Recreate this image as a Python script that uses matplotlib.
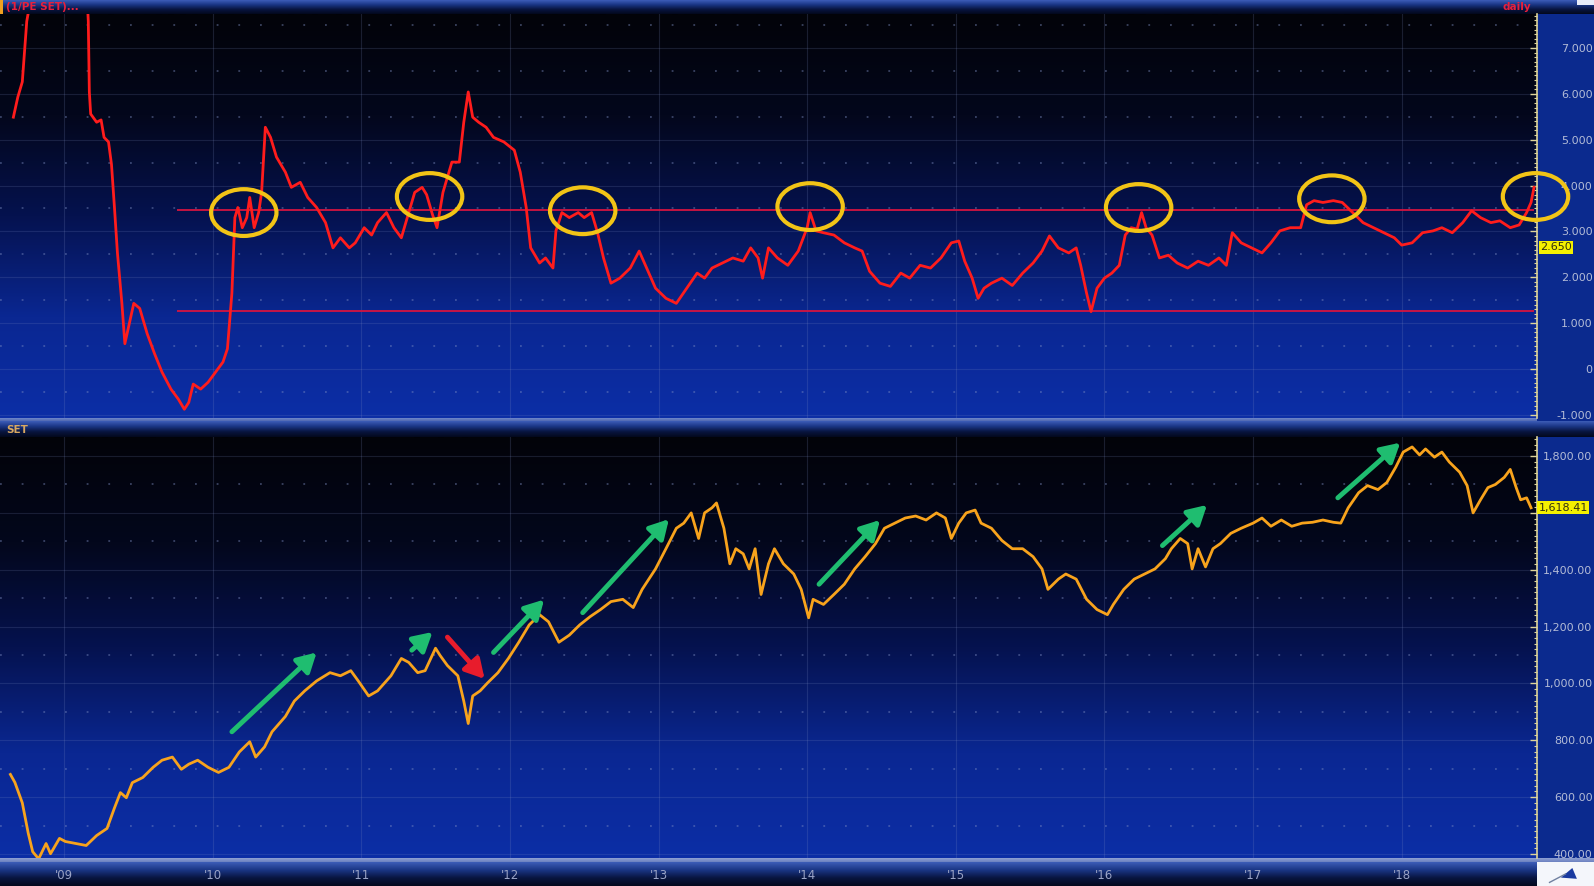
import numpy as np
import matplotlib
matplotlib.use('Agg')
import matplotlib.pyplot as plt
import matplotlib.transforms as mtransforms
from matplotlib.colors import LinearSegmentedColormap
from matplotlib.patches import Ellipse, Rectangle
from matplotlib.ticker import MultipleLocator

# DATA

# top panel: 1/PE of SET (earnings yield), daily
pe_years = [2008.66, 2008.69, 2008.72, 2008.75, 2008.80, 2009.00, 2009.15, 2009.164, 2009.171, 2009.18,
            2009.22, 2009.25, 2009.27, 2009.30, 2009.32, 2009.34, 2009.36, 2009.39, 2009.41, 2009.44,
            2009.47, 2009.51, 2009.56, 2009.61, 2009.66, 2009.72, 2009.77, 2009.81, 2009.84, 2009.87,
            2009.92, 2009.97, 2010.02, 2010.07, 2010.10, 2010.13, 2010.15, 2010.17, 2010.20, 2010.23,
            2010.25, 2010.28, 2010.31, 2010.33, 2010.355, 2010.39, 2010.43, 2010.49, 2010.53, 2010.59,
            2010.64, 2010.70, 2010.76, 2010.81, 2010.86, 2010.92, 2010.96, 2011.02, 2011.07, 2011.11,
            2011.17, 2011.22, 2011.27, 2011.31, 2011.36, 2011.41, 2011.44, 2011.48, 2011.51, 2011.55,
            2011.58, 2011.61, 2011.66, 2011.69, 2011.72, 2011.75, 2011.79, 2011.84, 2011.89, 2011.96,
            2012.03, 2012.07, 2012.11, 2012.14, 2012.20, 2012.24, 2012.29, 2012.31, 2012.35, 2012.40,
            2012.46, 2012.50, 2012.55, 2012.59, 2012.63, 2012.68, 2012.74, 2012.81, 2012.87, 2012.92,
            2012.98, 2013.05, 2013.12, 2013.19, 2013.26, 2013.31, 2013.36, 2013.43, 2013.50, 2013.57,
            2013.62, 2013.67, 2013.70, 2013.74, 2013.80, 2013.87, 2013.94, 2014.00, 2014.02, 2014.06,
            2014.11, 2014.18, 2014.25, 2014.32, 2014.37, 2014.42, 2014.49, 2014.56, 2014.63, 2014.69,
            2014.76, 2014.83, 2014.90, 2014.97, 2015.02, 2015.06, 2015.11, 2015.15, 2015.19, 2015.24,
            2015.31, 2015.38, 2015.45, 2015.52, 2015.58, 2015.63, 2015.69, 2015.76, 2015.81, 2015.84,
            2015.88, 2015.91, 2015.95, 2016.00, 2016.05, 2016.10, 2016.14, 2016.18, 2016.22, 2016.25,
            2016.28, 2016.32, 2016.37, 2016.43, 2016.49, 2016.56, 2016.63, 2016.70, 2016.77, 2016.82,
            2016.86, 2016.92, 2016.99, 2017.06, 2017.12, 2017.18, 2017.25, 2017.32, 2017.36, 2017.41,
            2017.47, 2017.54, 2017.60, 2017.67, 2017.74, 2017.81, 2017.88, 2017.95, 2018.00, 2018.07,
            2018.14, 2018.21, 2018.27, 2018.34, 2018.41, 2018.47, 2018.53, 2018.60, 2018.66, 2018.73,
            2018.79, 2018.84, 2018.87, 2018.89]
pe_vals = [5.49, 5.93, 6.26, 7.58, 8.5, 8.5, 8.5, 7.58, 6.04, 5.56,
           5.38, 5.43, 5.05, 4.95, 4.46, 3.52, 2.53, 1.43, 0.55, 0.99,
           1.43, 1.32, 0.77, 0.33, -0.07, -0.44, -0.66, -0.88, -0.73, -0.33,
           -0.44, -0.29, -0.07, 0.15, 0.44, 1.65, 3.30, 3.52, 3.08, 3.30,
           3.74, 3.08, 3.41, 3.85, 5.27, 5.05, 4.62, 4.29, 3.96, 4.07,
           3.74, 3.52, 3.19, 2.64, 2.86, 2.64, 2.75, 3.08, 2.92, 3.19,
           3.41, 3.08, 2.86, 3.30, 3.85, 3.96, 3.80, 3.36, 3.08, 3.85,
           4.18, 4.51, 4.51, 5.38, 6.04, 5.49, 5.38, 5.27, 5.05, 4.95,
           4.77, 4.29, 3.52, 2.64, 2.31, 2.42, 2.20, 3.01, 3.41, 3.30,
           3.41, 3.30, 3.41, 2.97, 2.42, 1.87, 1.98, 2.20, 2.57, 2.20,
           1.76, 1.54, 1.43, 1.76, 2.09, 1.98, 2.20, 2.31, 2.42, 2.35,
           2.64, 2.42, 1.98, 2.64, 2.42, 2.26, 2.57, 3.08, 3.41, 3.01,
           2.97, 2.92, 2.75, 2.64, 2.57, 2.13, 1.87, 1.80, 2.09, 1.98,
           2.26, 2.20, 2.42, 2.75, 2.79, 2.35, 1.98, 1.54, 1.76, 1.87,
           1.98, 1.82, 2.09, 2.31, 2.57, 2.90, 2.64, 2.53, 2.64, 2.26,
           1.65, 1.25, 1.76, 1.98, 2.09, 2.26, 2.92, 3.08, 3.05, 3.41,
           3.08, 2.92, 2.42, 2.48, 2.31, 2.20, 2.35, 2.26, 2.42, 2.26,
           2.97, 2.75, 2.64, 2.53, 2.75, 3.01, 3.08, 3.08, 3.58, 3.67,
           3.63, 3.67, 3.63, 3.41, 3.19, 3.08, 2.97, 2.86, 2.70, 2.75,
           2.97, 3.01, 3.08, 2.97, 3.19, 3.45, 3.30, 3.19, 3.23, 3.08,
           3.14, 3.41, 3.63, 3.96]
pe_levels = [3.47, 1.26]
pe_level_start, pe_level_end = 2009.76, 2018.89
pe_last_label = 2.650

# circled tops (year, value)
circle_x = [2010.21, 2011.46, 2012.49, 2014.02, 2016.23, 2017.53, 2018.90]
circle_y = [3.41, 3.76, 3.45, 3.54, 3.52, 3.71, 3.76]

# bottom panel: SET index
set_years = [2008.64, 2008.67, 2008.72, 2008.76, 2008.79, 2008.83, 2008.88, 2008.91, 2008.97, 2009.01,
             2009.08, 2009.15, 2009.22, 2009.29, 2009.34, 2009.38, 2009.42, 2009.46, 2009.53, 2009.60,
             2009.66, 2009.73, 2009.79, 2009.84, 2009.90, 2009.97, 2010.04, 2010.11, 2010.18, 2010.25,
             2010.29, 2010.35, 2010.40, 2010.49, 2010.55, 2010.62, 2010.70, 2010.79, 2010.86, 2010.93,
             2010.98, 2011.05, 2011.11, 2011.20, 2011.27, 2011.32, 2011.38, 2011.43, 2011.50, 2011.53,
             2011.58, 2011.65, 2011.69, 2011.72, 2011.75, 2011.80, 2011.85, 2011.92, 2011.99, 2012.06,
             2012.13, 2012.20, 2012.26, 2012.33, 2012.40, 2012.47, 2012.54, 2012.61, 2012.68, 2012.76,
             2012.83, 2012.89, 2012.98, 2013.05, 2013.12, 2013.17, 2013.22, 2013.27, 2013.31, 2013.36,
             2013.39, 2013.44, 2013.48, 2013.52, 2013.57, 2013.61, 2013.65, 2013.69, 2013.74, 2013.78,
             2013.84, 2013.91, 2013.96, 2014.01, 2014.04, 2014.11, 2014.18, 2014.25, 2014.32, 2014.39,
             2014.46, 2014.52, 2014.59, 2014.66, 2014.73, 2014.80, 2014.87, 2014.93, 2014.97, 2015.02,
             2015.07, 2015.13, 2015.17, 2015.24, 2015.31, 2015.38, 2015.45, 2015.52, 2015.58, 2015.62,
             2015.69, 2015.74, 2015.81, 2015.88, 2015.95, 2016.02, 2016.06, 2016.13, 2016.20, 2016.27,
             2016.34, 2016.41, 2016.45, 2016.51, 2016.56, 2016.59, 2016.63, 2016.68, 2016.73, 2016.78,
             2016.85, 2016.92, 2017.00, 2017.06, 2017.12, 2017.19, 2017.26, 2017.33, 2017.40, 2017.47,
             2017.54, 2017.59, 2017.64, 2017.71, 2017.77, 2017.84, 2017.90, 2017.96, 2018.01, 2018.07,
             2018.12, 2018.16, 2018.22, 2018.27, 2018.32, 2018.39, 2018.44, 2018.48, 2018.53, 2018.58,
             2018.63, 2018.69, 2018.73, 2018.77, 2018.80, 2018.84, 2018.87]
set_vals = [680, 652, 580, 473, 408, 383, 437, 401, 455, 444,
            437, 430, 465, 490, 562, 616, 598, 651, 669, 705,
            730, 741, 698, 716, 730, 705, 687, 705, 759, 795,
            741, 777, 830, 884, 938, 974, 1009, 1038, 1027, 1045,
            1009, 956, 974, 1027, 1088, 1074, 1038, 1045, 1124, 1099,
            1063, 1027, 938, 859, 956, 974, 1002, 1038, 1088, 1145,
            1206, 1242, 1217, 1145, 1170, 1206, 1235, 1260, 1288, 1296,
            1267, 1331, 1403, 1474, 1546, 1564, 1600, 1510, 1600, 1618,
            1635, 1546, 1421, 1474, 1456, 1403, 1474, 1313, 1421, 1474,
            1421, 1385, 1331, 1231, 1296, 1278, 1313, 1349, 1403, 1446,
            1492, 1546, 1564, 1582, 1589, 1575, 1600, 1582, 1510, 1564,
            1600, 1610, 1564, 1546, 1503, 1474, 1474, 1446, 1403, 1331,
            1367, 1385, 1367, 1296, 1260, 1242, 1278, 1331, 1367, 1385,
            1403, 1439, 1474, 1510, 1492, 1403, 1474, 1410, 1474, 1492,
            1528, 1546, 1564, 1582, 1553, 1575, 1553, 1564, 1567, 1575,
            1567, 1564, 1618, 1671, 1696, 1682, 1707, 1761, 1814, 1832,
            1804, 1825, 1796, 1814, 1779, 1743, 1696, 1600, 1646, 1689,
            1700, 1725, 1753, 1689, 1646, 1653, 1618]
set_last_label = 1618.41

# trend arrows on SET: (tail year, tail value, head year, head value)
green_arrows = [(2010.13, 830, 2010.70, 1109),
                (2011.34, 1117, 2011.48, 1181),
                (2011.89, 1109, 2012.23, 1295),
                (2012.49, 1249, 2013.07, 1578),
                (2014.08, 1349, 2014.49, 1575),
                (2016.39, 1485, 2016.69, 1628),
                (2017.57, 1653, 2017.99, 1847)]
red_arrows = [(2011.58, 1163, 2011.83, 1016)]

year_ticks = list(range(2009, 2019))
year_labels = ["'09", "'10", "'11", "'12", "'13", "'14", "'15", "'16", "'17", "'18"]
pe_ticks = [-1, 0, 1, 2, 3, 4, 5, 6, 7]
pe_tick_labels = ['-1.000', '0', '1.000', '2.000', '3.000', '4.000', '5.000', '6.000', '7.000']
set_ticks = [400, 600, 800, 1000, 1200, 1400, 1600, 1800]
set_tick_labels = ['400.00', '600.00', '800.00', '1,000.00', '1,200.00', '1,400.00', '', '1,800.00']

# LAYOUT

W, H = 1594, 886
XLIM = (2008.57, 2018.91)
BG = ['#020309', '#03071c', '#05124f', '#0a2792', '#0c2ea6']
BAR = ['#3d5db8', '#1a3584', '#08153f', '#03081c']
AXIS_C = '#ddd49a'
LABEL_C = '#b3bbd6'
GRID_C = '#7f8fc4'
ARROW = '-|>,head_width=0.42,head_length=0.75'


def px_box(x0, y0, x1, y1):
    return [x0 / W, 1 - y1 / H, (x1 - x0) / W, (y1 - y0) / H]


def gradient_axes(box, colors):
    a = fig.add_axes(box)
    a.imshow(np.linspace(0, 1, 256).reshape(-1, 1),
             cmap=LinearSegmentedColormap.from_list('g', colors),
             aspect='auto', extent=[0, 1, 0, 1], interpolation='bilinear')
    a.set_axis_off()
    return a


fig = plt.figure(figsize=(W / 100, H / 100), dpi=100, facecolor='#0b2a8e')

# header / separator bars and panel backgrounds
gradient_axes(px_box(0, 0, 1594, 14), BAR)
gradient_axes(px_box(0, 418, 1537, 421), ['#7088cc', '#5068b0'])
gradient_axes(px_box(0, 421, 1594, 437), BAR)
gradient_axes(px_box(0, 858, 1594, 862), ['#9aaad8', '#6a80c0'])
gradient_axes(px_box(0, 862, 1537, 886), BAR)
gradient_axes(px_box(0, 14, 1537, 418), BG)
gradient_axes(px_box(0, 437, 1537, 858), BG)

ax1 = fig.add_axes(px_box(0, 14, 1537, 418))
ax2 = fig.add_axes(px_box(0, 437, 1537, 858))


def style_panel(ax, ylim, ticks, labels, minor, solid, dotted):
    ax.set_facecolor('none')
    ax.set_xlim(*XLIM)
    ax.set_ylim(*ylim)
    for s in ['left', 'top', 'bottom']:
        ax.spines[s].set_visible(False)
    ax.spines['right'].set_color(AXIS_C)
    ax.spines['right'].set_linewidth(1.2)
    ax.yaxis.tick_right()
    ax.set_yticks(ticks, labels)
    ax.yaxis.set_minor_locator(MultipleLocator(minor))
    ax.tick_params(axis='y', which='major', direction='in', length=5, width=1,
                   color=AXIS_C, labelcolor=LABEL_C, labelsize=8, pad=40)
    ax.tick_params(axis='y', which='minor', direction='in', length=2.5, width=0.8, color=AXIS_C)
    plt.setp(ax.get_yticklabels(), ha='right')
    for v in solid:
        ax.axhline(v, color=GRID_C, alpha=0.18, lw=0.8, zorder=1)
    for v in dotted:
        ax.axhline(v, color=GRID_C, alpha=0.45, lw=1.3, ls=(0, (1, 11)), zorder=1)
    for yr in year_ticks:
        ax.axvline(yr, color=GRID_C, alpha=0.2, lw=0.8, zorder=1)


style_panel(ax1, (-1.07, 7.74), pe_ticks, pe_tick_labels, 0.1,
            pe_ticks, [t + 0.5 for t in pe_ticks[:-1]] + [7.5])
ax1.set_xticks([])

style_panel(ax2, (386, 1867), set_ticks, set_tick_labels, 20,
            set_ticks, [t + 100 for t in set_ticks])
ax2.set_xticks(year_ticks, year_labels)
ax2.tick_params(axis='x', length=0, pad=8, labelcolor='#9aa3c6', labelsize=8.5)

# top panel lines
ax1.hlines(pe_levels, pe_level_start, pe_level_end, color='#d41440', lw=1.3, zorder=3)
ax1.plot(pe_years, pe_vals, color='#ff1c1c', lw=2, zorder=4, solid_joinstyle='round')
for cx, cy in zip(circle_x, circle_y):
    ax1.add_patch(Ellipse((cx, cy), width=0.44, height=1.02, fill=False,
                          ec='#f2c416', lw=3, zorder=6, clip_on=False))

# bottom panel line and arrows
ax2.plot(set_years, set_vals, color='#f8a31c', lw=2, zorder=4, solid_joinstyle='round')
for x0, y0, x1, y1 in green_arrows:
    ax2.annotate('', xy=(x1, y1), xytext=(x0, y0), zorder=5,
                 arrowprops=dict(arrowstyle=ARROW, color='#1fbd70',
                                 lw=3.5, shrinkA=0, shrinkB=0, mutation_scale=15))
for x0, y0, x1, y1 in red_arrows:
    ax2.annotate('', xy=(x1, y1), xytext=(x0, y0), zorder=5,
                 arrowprops=dict(arrowstyle=ARROW, color='#e81c2c',
                                 lw=3.5, shrinkA=0, shrinkB=0, mutation_scale=15))

# last value boxes on the right axis
tr1 = mtransforms.blended_transform_factory(ax1.transAxes, ax1.transData)
ax1.text(1.002, pe_last_label, '%.3f' % pe_last_label, transform=tr1, ha='left', va='center',
         fontsize=8, color='#303010', clip_on=False, zorder=7,
         bbox=dict(boxstyle='square,pad=0.12', fc='#f4f000', ec='none'))
tr2 = mtransforms.blended_transform_factory(ax2.transAxes, ax2.transData)
ax2.text(1.001, set_last_label, '{:,.2f}'.format(set_last_label), transform=tr2, ha='left',
         va='center', fontsize=8, color='#303010', clip_on=False, zorder=7,
         bbox=dict(boxstyle='square,pad=0.12', fc='#f4f000', ec='none'))

# header texts
fig.patches.append(Rectangle((0, 1 - 14 / H), 3 / W, 14 / H, transform=fig.transFigure,
                             fc='#f0a020', ec='none'))
fig.patches.append(Rectangle((1577 / W, 1 - 5 / H), 17 / W, 5 / H, transform=fig.transFigure,
                             fc='#e8ecf8', ec='none'))
fig.text(6 / W, 1 - 7 / H, '(1/PE SET)...', color='#e8203c', fontsize=7.5, va='center',
         fontweight='bold')
fig.text(1517 / W, 1 - 7 / H, 'daily', color='#e8203c', fontsize=7.5, va='center', ha='center',
         fontweight='bold')
fig.text(6 / W, 1 - 430 / H, 'SET', color='#d9a860', fontsize=7.5, va='center',
         fontweight='bold')

# corner box with the small pin icon
corner = fig.add_axes(px_box(1537, 862, 1594, 886))
corner.set_facecolor('#f4f6fb')
corner.set_xlim(0, 1)
corner.set_ylim(0, 1)
corner.set_xticks([])
corner.set_yticks([])
for s in corner.spines.values():
    s.set_visible(False)
corner.plot([0.22, 0.5], [0.15, 0.5], color='#7080a0', lw=1)
corner.add_patch(plt.Polygon([[0.42, 0.35], [0.62, 0.75], [0.7, 0.3]], closed=True,
                             fc='#1a3aa0', ec='none'))

fig.savefig('out.png', dpi=100, facecolor=fig.get_facecolor())
